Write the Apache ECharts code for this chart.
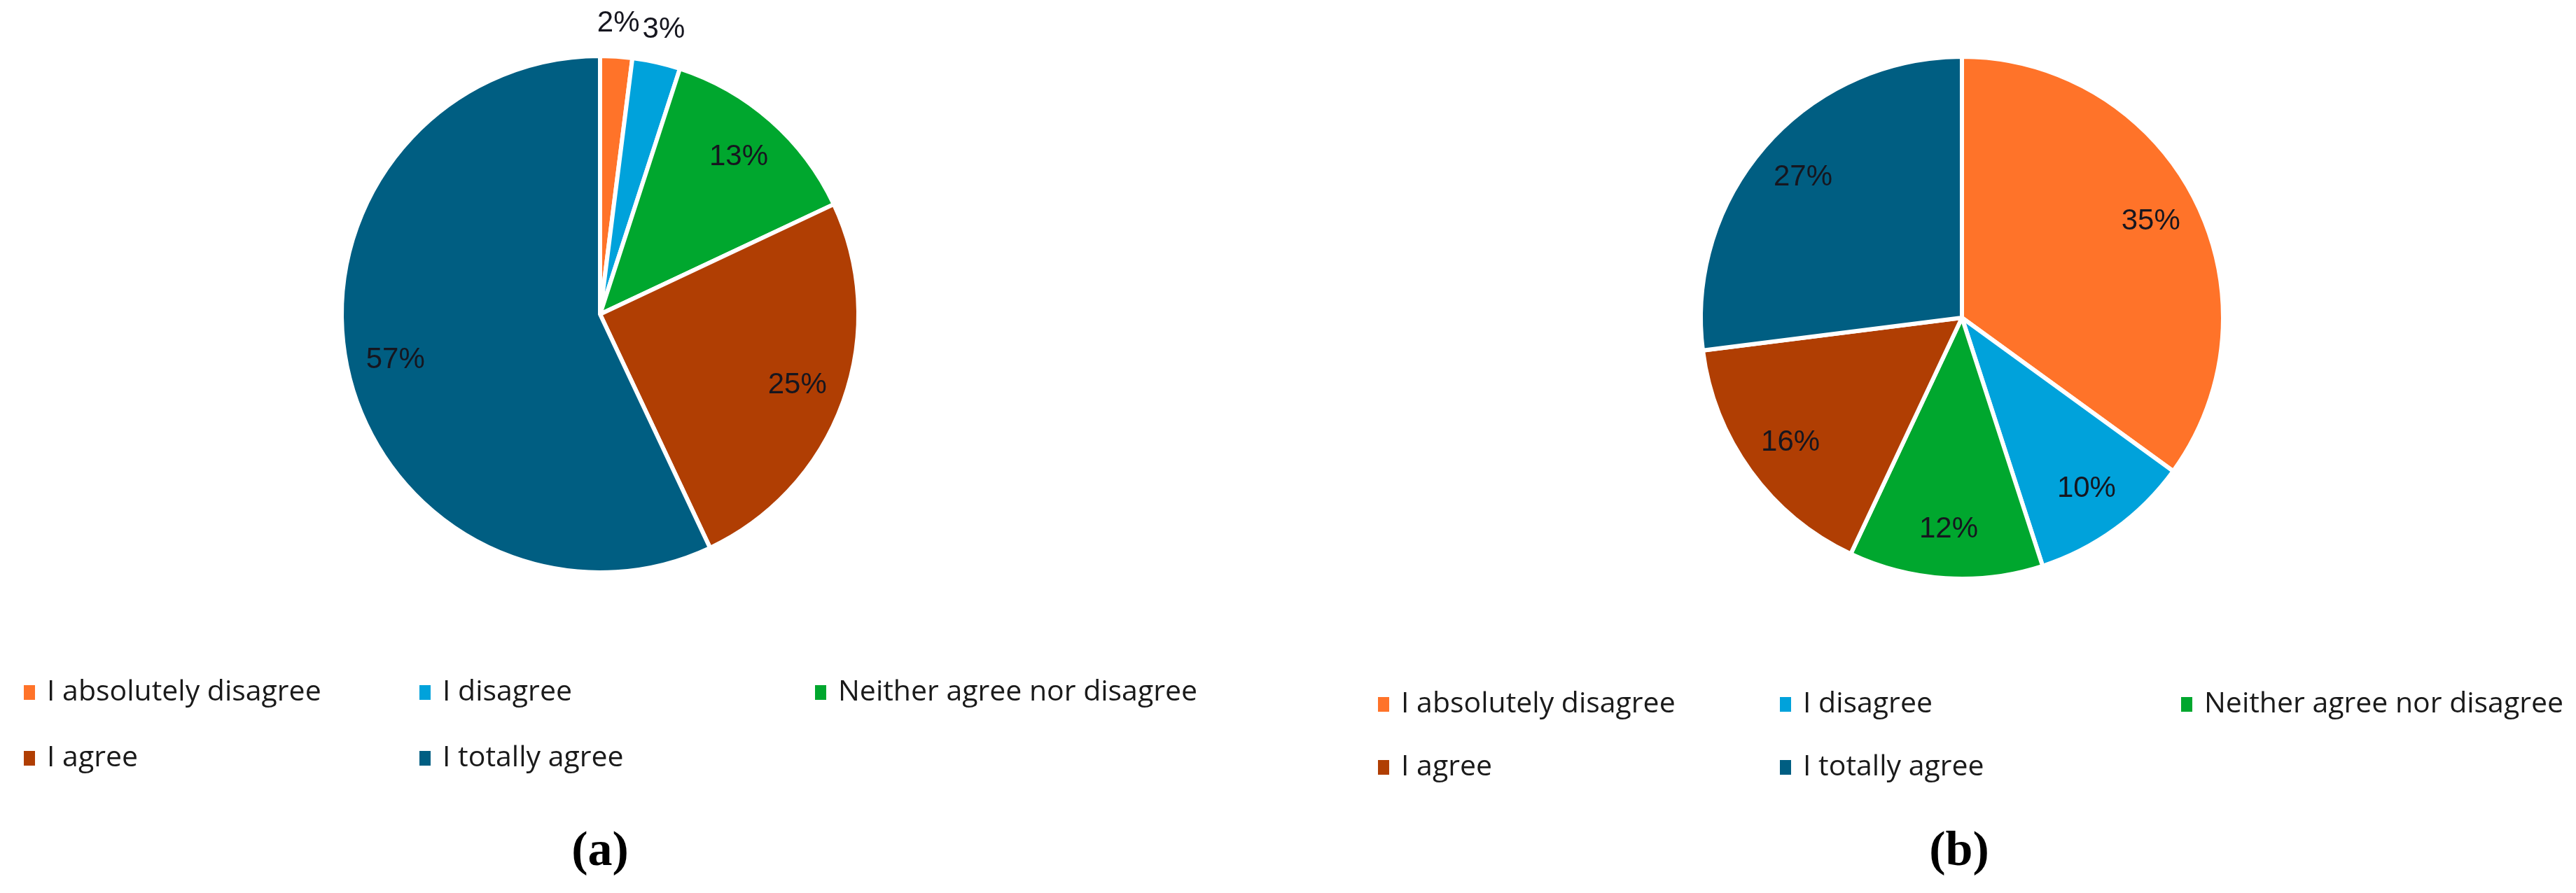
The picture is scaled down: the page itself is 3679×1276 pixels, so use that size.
<!DOCTYPE html>
<html>
<head>
<meta charset="utf-8">
<script src="https://cdn.jsdelivr.net/npm/echarts@6/dist/echarts.min.js"></script>
<style>
  html, body { margin: 0; padding: 0; background: #ffffff; }
  #chart { width: 3679px; height: 1276px; }
</style>
</head>
<body>
<div id="chart"></div>
<script>
// ---- data ----
const categories = ['I absolutely disagree', 'I disagree', 'Neither agree nor disagree', 'I agree', 'I totally agree'];
const valuesA = [2, 3, 13, 25, 57];
const valuesB = [35, 10, 12, 16, 27];
const panelLabels = ['(a)', '(b)'];
const colors = ['#FF7329', '#00A2DB', '#00A72E', '#B03E03', '#005E82'];

// ---- layout ----
const panels = [
  { values: valuesA, label: panelLabels[0], cx: 857, cy: 449, r: 366,
    legendCols: [32, 597, 1162], legendRows: [991, 1085], capX: 857 },
  { values: valuesB, label: panelLabels[1], cx: 2802, cy: 454, r: 370,
    legendCols: [1966, 2540, 3113], legendRows: [1008, 1098], capX: 2798 }
];
const capY = 1221;
const smallThreshold = 5;

const series = [];
const legends = [];
const titles = [];

panels.forEach(function (p, pi) {
  const data = categories.map(function (c, i) { return { name: c, value: p.values[i] }; });
  const labelFont = { fontFamily: '"Liberation Sans", Arial, sans-serif', fontSize: 42, color: '#16161f' };
  // visible pie
  series.push({
    type: 'pie', center: [p.cx, p.cy], radius: [0, p.r + 3],
    startAngle: 90, clockwise: true, silent: true,
    avoidLabelOverlap: false,
    itemStyle: { borderColor: '#ffffff', borderWidth: 6 },
    label: { show: false }, labelLine: { show: false },
    emphasis: { disabled: true },
    data: data.map(function (d, i) { return { name: d.name, value: d.value, itemStyle: { color: colors[i] } }; })
  });
  // inner labels (transparent ring, label at ~0.81 R)
  series.push({
    type: 'pie', center: [p.cx, p.cy], radius: [p.r * 0.62, p.r],
    startAngle: 90, clockwise: true, silent: true, avoidLabelOverlap: false,
    itemStyle: { color: 'rgba(0,0,0,0)', borderWidth: 0 },
    labelLine: { show: false }, emphasis: { disabled: true },
    label: Object.assign({ show: true, position: 'inside', formatter: '{c}%' }, labelFont),
    data: data.map(function (d) {
      return { name: d.name, value: d.value, label: { show: d.value >= smallThreshold } };
    })
  });
  // outer labels for small slices (transparent ring, label at ~1.13 R)
  series.push({
    type: 'pie', center: [p.cx, p.cy], radius: [p.r, p.r * 1.26],
    startAngle: 90, clockwise: true, silent: true, avoidLabelOverlap: false,
    itemStyle: { color: 'rgba(0,0,0,0)', borderWidth: 0 },
    labelLine: { show: false }, emphasis: { disabled: true },
    label: Object.assign({ show: true, position: 'inside', formatter: '{c}%' }, labelFont),
    data: data.map(function (d) {
      return { name: d.name, value: d.value, label: { show: d.value < smallThreshold } };
    })
  });

  // legends: 3 columns x 2 rows
  categories.forEach(function (c, i) {
    const col = i < 3 ? i : i - 3;
    const row = i < 3 ? 0 : 1;
    legends.push({
      show: true, data: [c], orient: 'horizontal',
      left: p.legendCols[col], top: p.legendRows[row] - 22,
      padding: 0, icon: 'rect', itemWidth: 18, itemHeight: 23,
      selectedMode: false,
      textStyle: { fontFamily: '"Open Sans", sans-serif', fontSize: 41, color: '#1a1a1a', padding: [0, 0, 0, 11] }
    });
  });

  titles.push({
    text: p.label, left: p.capX, top: capY - 38, textAlign: 'center', padding: 0,
    textStyle: { fontFamily: '"Liberation Serif", "Times New Roman", serif', fontWeight: 'bold', fontSize: 70, color: '#000000' }
  });
});

const chart = echarts.init(document.getElementById('chart'), null, { renderer: 'canvas' });
chart.setOption({
  backgroundColor: '#ffffff',
  animation: false,
  title: titles,
  legend: legends,
  series: series
});
</script>
</body>
</html>
